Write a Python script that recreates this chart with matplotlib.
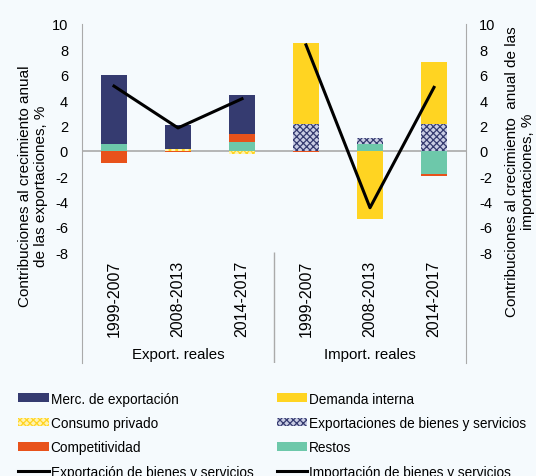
import numpy as np
import matplotlib.pyplot as plt
from matplotlib.patches import Patch
from matplotlib.lines import Line2D

plt.rcParams['font.family'] = ['Liberation Sans', 'DejaVu Sans']
plt.rcParams['hatch.linewidth'] = 0.9
plt.rcParams['axes.unicode_minus'] = False

# datos
periodos = ['1999-2007', '2008-2013', '2014-2017', '1999-2007', '2008-2013', '2014-2017']
grupos = ['Export. reales', 'Import. reales']

merc = [5.5, 1.85, 3.1, 0, 0, 0]
demanda = [0, 0, 0, 6.4, -5.4, 4.9]
consumo = [0, 0.15, -0.25, 0, 0, 0]
exportaciones = [0, 0, 0, 2.1, 0.45, 2.1]
competitividad = [-0.95, -0.1, 0.6, -0.1, 0, -0.15]
restos = [0.5, 0, 0.7, 0, 0.55, -1.85]
linea_export = [5.1, 1.8, 4.1]
linea_import = [8.35, -4.5, 5.0]

bg = '#F5FAFD'
navy = '#353B70'
yellow = '#FFD422'
orange = '#E8521B'
teal = '#6DC8AA'
gris = '#AAAAAA'

W, H = 536, 477
fig = plt.figure(figsize=(W / 100, H / 100), dpi=100, facecolor=bg)
ax = fig.add_axes([82 / W, 1 - 364 / H, 384 / W, 339 / H], facecolor=bg)

x = np.arange(len(periodos))
w = 0.41

# orden de apilado (de abajo hacia arriba)
series = [
    (restos, dict(color=teal)),
    (exportaciones, dict(facecolor='#C9CDE4', edgecolor=navy, hatch='xxxxx', linewidth=0)),
    (competitividad, dict(color=orange)),
    (consumo, dict(facecolor='#FFF3B0', edgecolor=yellow, hatch='xxxxx', linewidth=0)),
    (demanda, dict(color=yellow)),
    (merc, dict(color=navy)),
]
pos = np.zeros(len(x))
neg = np.zeros(len(x))
for vals, st in series:
    v = np.array(vals, dtype=float)
    bottom = np.where(v >= 0, pos, neg)
    ax.bar(x, v, w, bottom=bottom, zorder=2, **st)
    pos += np.where(v >= 0, v, 0)
    neg += np.where(v < 0, v, 0)

ax.plot(x[:3], linea_export, color='black', lw=2.2, zorder=4)
ax.plot(x[3:], linea_import, color='black', lw=2.2, zorder=4)

ax.axhline(0, color=gris, lw=1.2, zorder=1)

ymin = -16.75
ax.set_ylim(ymin, 10)
ax.set_xlim(-0.5, 5.5)
ax.set_yticks(range(-8, 11, 2))
ax.tick_params(axis='y', length=0, labelsize=10.5, pad=10)
ax.set_xticks([])
for s in ['top', 'bottom']:
    ax.spines[s].set_visible(False)
for s in ['left', 'right']:
    ax.spines[s].set_color(gris)
ax.vlines(2.5, ymin, -8, color=gris, lw=1)

ax2 = ax.twinx()
ax2.set_ylim(ymin, 10)
ax2.set_yticks(range(-8, 11, 2))
ax2.tick_params(axis='y', length=0, labelsize=10.5, pad=9.5)
for s in ax2.spines.values():
    s.set_visible(False)

fig.text(33 / W, 1 - 186 / H, 'Contribuciones al crecimiento anual\nde las exportaciones, %',
         rotation=90, ha='center', va='center', fontsize=11)
fig.text(520 / W, 1 - 172 / H, 'Contribuciones al crecimiento  anual de las\nimportaciones, %',
         rotation=90, ha='center', va='center', fontsize=11)

for xi, p in zip(x, periodos):
    ax.text(xi, -11.6, p, rotation=90, ha='center', va='center', fontsize=11.5)
ax.text(1, -16.05, grupos[0], ha='center', va='center', fontsize=10.8)
ax.text(4, -16.05, grupos[1], ha='center', va='center', fontsize=10.8)

handles = [
    Patch(facecolor=navy, label='Merc. de exportación'),
    Patch(facecolor='#FFF3B0', edgecolor=yellow, hatch='xxxxx', linewidth=0, label='Consumo privado'),
    Patch(facecolor=orange, label='Competitividad'),
    Line2D([], [], color='black', lw=2.2, label='Exportación de bienes y servicios'),
    Patch(facecolor=yellow, label='Demanda interna'),
    Patch(facecolor='#C9CDE4', edgecolor=navy, hatch='xxxxx', linewidth=0, label='Exportaciones de bienes y servicios'),
    Patch(facecolor=teal, label='Restos'),
    Line2D([], [], color='black', lw=2.2, label='Importación de bienes y servicios'),
]
fig.legend(handles=handles, ncol=2, loc='upper left', bbox_to_anchor=(18 / W, 0.177),
           frameon=False, fontsize=9.8, handlelength=2.25, handleheight=0.6,
           handletextpad=0.15, labelspacing=0.76, columnspacing=1.7, borderaxespad=0,
           borderpad=0)

fig.savefig('out.png', dpi=100, facecolor=bg)
